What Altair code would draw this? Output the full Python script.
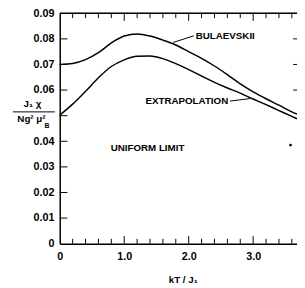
import altair as alt
import pandas as pd

# --- data ---
kt = [0.0, 0.2, 0.4, 0.6, 0.8, 1.0, 1.2, 1.4, 1.6, 1.8, 2.0, 2.2, 2.4, 2.6, 2.8, 3.0, 3.2, 3.4, 3.6, 3.68]
bulaevskii = [0.0700, 0.0704, 0.0719, 0.0746, 0.0784, 0.0811, 0.0819, 0.0811, 0.0795, 0.0776,
              0.0750, 0.0724, 0.0694, 0.0660, 0.0624, 0.0593, 0.0566, 0.0541, 0.0515, 0.0506]
extrapolation = [0.0502, 0.0545, 0.0595, 0.0648, 0.0692, 0.0718, 0.0732, 0.0733, 0.0723, 0.0703,
                 0.0680, 0.0655, 0.0630, 0.0608, 0.0588, 0.0565, 0.0543, 0.0520, 0.0497, 0.0488]

x_labels = [0, 1, 2, 3]
y_labels = [0, 0.01, 0.02, 0.03, 0.04, 0.05, 0.06, 0.07, 0.08, 0.09]
x_minor = [0.2, 0.4, 0.6, 0.8, 1.2, 1.4, 1.6, 1.8, 2.2, 2.4, 2.6, 2.8, 3.2, 3.4, 3.6]
x_major = [1.0, 2.0, 3.0]
y_ticks = [0.01, 0.02, 0.03, 0.04, 0.05, 0.06, 0.07, 0.08]
right_ticks = [0.06, 0.07, 0.08]

notes = ["BULAEVSKII", "EXTRAPOLATION", "UNIFORM LIMIT"]
note_x = [2.11, 1.33, 0.79]
note_y = [0.0812, 0.0557, 0.0374]

lead_id = ["b", "b", "e", "e"]
lead_x = [1.76, 2.08, 2.64, 2.96]
lead_y = [0.0786, 0.0812, 0.0557, 0.0567]

XMAX = 3.68
YMAX = 0.09
FONT = "Liberation Sans"

rows = []
for k, b, e in zip(kt, bulaevskii, extrapolation):
    rows.append({"kt": k, "v": b, "s": "Bulaevskii"})
    rows.append({"kt": k, "v": e, "s": "Extrapolation"})
curves = pd.DataFrame(rows)

xs = alt.Scale(domain=[0, XMAX], nice=False, zero=False)
ys = alt.Scale(domain=[0, YMAX], nice=False)

xaxis = alt.Axis(values=x_labels, labelExpr="datum.value == 0 ? '0' : format(datum.value, '.1f')",
                 ticks=False, grid=False, domainColor="black", domainWidth=1.5,
                 labelFont=FONT, labelFontWeight="bold", labelFontSize=11, labelColor="black",
                 labelPadding=7, labelFlush=False, labelOverlap=False,
                 title="kT / J₁", titleFont=FONT, titleFontWeight="bold", titleFontSize=10,
                 titleColor="black", titleX=126, titleY=32)
yaxis = alt.Axis(values=y_labels,
                 labelExpr="datum.value == 0 ? '0' : (abs(datum.value - 0.05) < 1e-6 ? '' : format(datum.value, '.2f'))",
                 ticks=False, grid=False, domainColor="black", domainWidth=1.5,
                 labelFont=FONT, labelFontWeight="bold", labelFontSize=11, labelColor="black",
                 labelPadding=6, labelFlush=False, labelOverlap=False, title=None)


def X(f):
    return alt.X(f, scale=xs, axis=xaxis)


def Y(f):
    return alt.Y(f, scale=ys, axis=yaxis)


lines = alt.Chart(curves).mark_line(color="black", strokeWidth=1.5, interpolate="monotone").encode(
    x=X("kt:Q"), y=Y("v:Q"), detail="s:N")

top = alt.Chart(pd.DataFrame({"y": [YMAX]})).mark_rule(color="black", strokeWidth=1.5).encode(
    y=Y("y:Q"))


def xticks(vals, y0, y1):
    df = pd.DataFrame({"x": vals, "y0": [y0] * len(vals), "y1": [y1] * len(vals)})
    return alt.Chart(df).mark_rule(color="black", strokeWidth=1).encode(
        x=X("x:Q"), y=Y("y0:Q"), y2="y1:Q")


def yticks(vals, x0, x1):
    df = pd.DataFrame({"y": vals, "x0": [x0] * len(vals), "x1": [x1] * len(vals)})
    return alt.Chart(df).mark_rule(color="black", strokeWidth=1).encode(
        y=Y("y:Q"), x=X("x0:Q"), x2="x1:Q")


bot_minor = xticks(x_minor, 0, 0.0019)
bot_major = xticks(x_major, 0, 0.003)
top_minor = xticks(x_minor, YMAX, YMAX - 0.0019)
top_major = xticks(x_major, YMAX, YMAX - 0.003)
left_t = yticks(y_ticks, 0, 0.12)
right_t = yticks(right_ticks, XMAX - 0.06, XMAX)

notes_df = pd.DataFrame({"t": notes, "x": note_x, "y": note_y})
note_text = alt.Chart(notes_df).mark_text(align="left", baseline="middle", font=FONT, fontWeight="bold",
                                          fontSize=10, color="black").encode(
    x=X("x:Q"), y=Y("y:Q"), text="t:N")

lead_df = pd.DataFrame({"id": lead_id, "x": lead_x, "y": lead_y})
leaders = alt.Chart(lead_df).mark_line(color="black", strokeWidth=1).encode(
    x=X("x:Q"), y=Y("y:Q"), detail="id:N")

dot = alt.Chart(pd.DataFrame({"x": [3.58], "y": [0.0385]})).mark_point(
    shape="circle", filled=True, size=8, color="black", opacity=1).encode(
    x=X("x:Q"), y=Y("y:Q"))

# y-axis title as a fraction
num = alt.Chart(pd.DataFrame({"t": ["J₁ χ"]})).mark_text(font=FONT, fontWeight="bold", fontSize=10,
                                                          color="black", baseline="middle").encode(
    x=alt.value(-28), y=alt.value(93), text="t:N")
bar = alt.Chart(pd.DataFrame({"a": [1]})).mark_rule(color="black", strokeWidth=1).encode(
    x=alt.value(-48), x2=alt.value(-5), y=alt.value(101))
den = alt.Chart(pd.DataFrame({"t": ["Ng² μ²"]})).mark_text(font=FONT, fontWeight="bold", fontSize=10,
                                                            color="black", baseline="middle").encode(
    x=alt.value(-29), y=alt.value(108), text="t:N")
den_b = alt.Chart(pd.DataFrame({"t": ["B"]})).mark_text(font=FONT, fontWeight="bold", fontSize=7,
                                                         color="black", baseline="middle").encode(
    x=alt.value(-13), y=alt.value(116), text="t:N")

chart = alt.layer(lines, top, bot_minor, bot_major, top_minor, top_major, left_t, right_t,
                  note_text, leaders, dot, num, bar, den, den_b).properties(
    width=243, height=236,
    padding={"left": 53, "top": 2, "right": 0, "bottom": 42},
    autosize=alt.AutoSizeParams(type="none"),
    background="white",
).configure_view(stroke=None)

chart.save("out.html", embed_options={"renderer": "svg", "actions": False})
